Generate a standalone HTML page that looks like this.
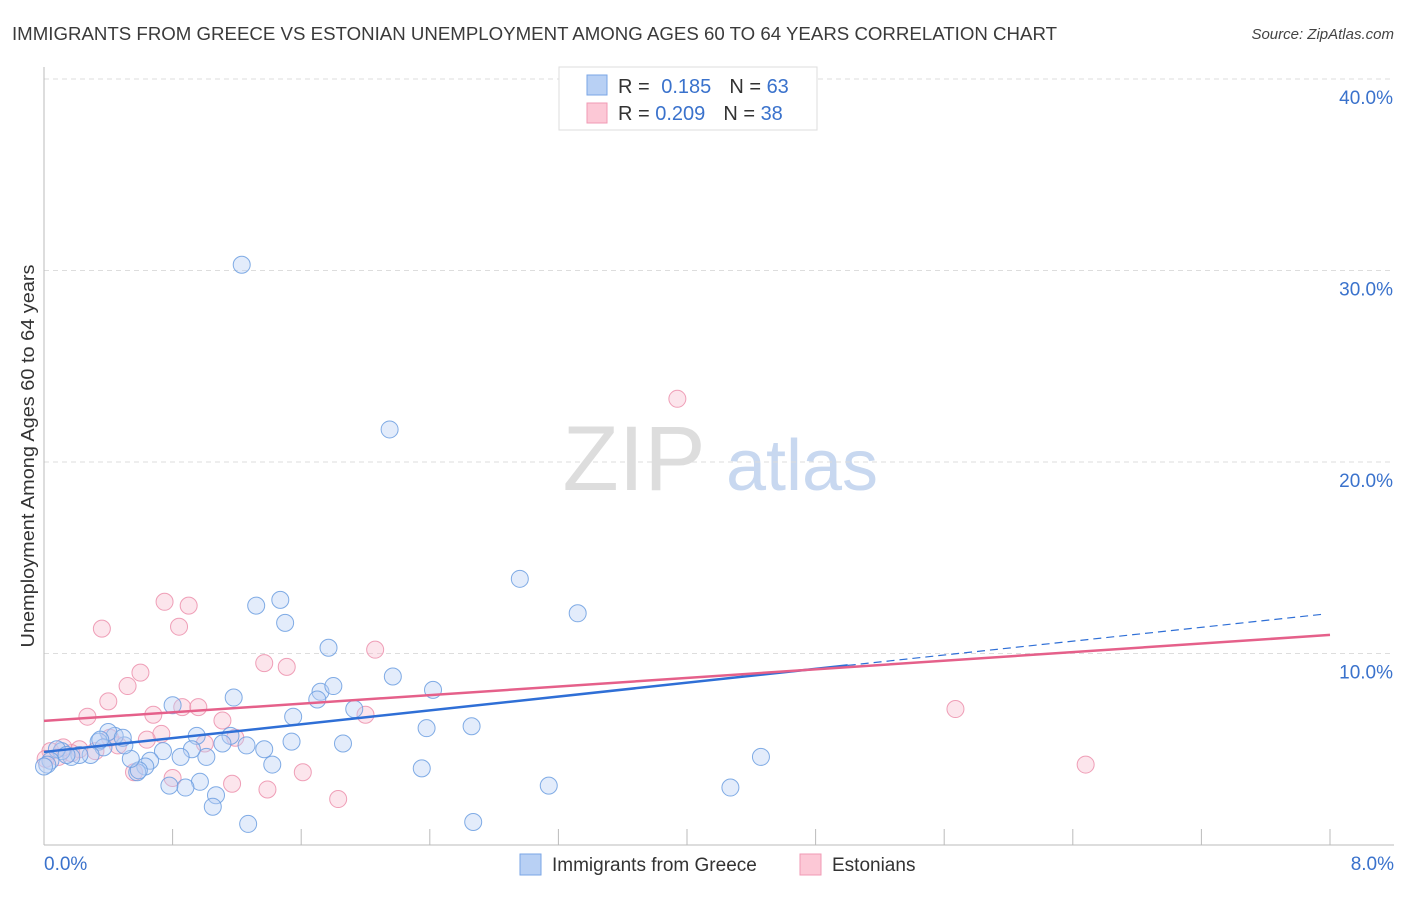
<!DOCTYPE html>
<html><head><meta charset="utf-8"><style>
body{margin:0;background:#fff;font-family:"Liberation Sans",sans-serif}
svg text{font-family:"Liberation Sans",sans-serif}
</style></head><body>
<svg id="chart" width="1406" height="892" xmlns="http://www.w3.org/2000/svg">
<text x="12" y="40" font-size="18" fill="#3a3a3a" textLength="1045" lengthAdjust="spacingAndGlyphs">IMMIGRANTS FROM GREECE VS ESTONIAN UNEMPLOYMENT AMONG AGES 60 TO 64 YEARS CORRELATION CHART</text>
<text x="1394" y="39" font-size="15" fill="#444" text-anchor="end" font-style="italic">Source: ZipAtlas.com</text>
<g>
<text x="634" y="490" font-size="92" fill="#ddd" font-family="Liberation Serif" text-anchor="middle">ZIP</text>
<text x="802" y="490" font-size="72" fill="#c8d8f0" text-anchor="middle">atlas</text>
</g>
<g id="grid"></g>
<g id="axes"></g>
<g id="pts"></g>
<g id="lines"></g>
<text transform="translate(34,456) rotate(-90)" font-size="18" fill="#333" text-anchor="middle" textLength="383" lengthAdjust="spacingAndGlyphs">Unemployment Among Ages 60 to 64 years</text>
<g>
<rect x="559" y="67" width="258" height="63" fill="#fff" stroke="#ddd"/>
<rect x="587" y="75" width="20" height="20" fill="#b8d0f4" stroke="#7aa6e6"/>
<rect x="587" y="103" width="20" height="20" fill="#fcc8d6" stroke="#f09ab4"/>
<text x="618" y="93" font-size="20" fill="#333">R = <tspan fill="#3a72cc" dx="6">0.185</tspan><tspan fill="#333" dx="18">N = </tspan><tspan fill="#3a72cc">63</tspan></text>
<text x="618" y="120" font-size="20" fill="#333">R = <tspan fill="#3a72cc">0.209</tspan><tspan fill="#333" dx="18">N = </tspan><tspan fill="#3a72cc">38</tspan></text>
</g>
<g>
<rect x="520" y="854" width="21" height="21" fill="#b8d0f4" stroke="#7aa6e6"/>
<text x="552" y="871" font-size="19" fill="#333">Immigrants from Greece</text>
<rect x="800" y="854" width="21" height="21" fill="#fcc8d6" stroke="#f09ab4"/>
<text x="832" y="871" font-size="19" fill="#333">Estonians</text>
</g>
</svg>
<script>
const xTicks=[0,8];
const yTicks=[10,20,30,40];
const blueX=[1.23,2.15,2.96,3.32,1.32,1.47,1.5,1.77,2.17,2.42,1.72,1.8,1.7,1.18,0.8,1.55,1.93,2.38,2.66,4.46,4.27,3.14,2.67,1.27,2.35,1.86,1.54,1.37,1.42,1.16,1.11,1.26,0.95,1.01,0.92,0.85,0.74,0.66,0.63,0.58,0.59,0.54,0.5,0.44,0.4,0.34,0.37,0.29,0.22,0.17,0.11,0.08,0.04,0.02,0.0,0.97,0.88,0.78,1.07,1.05,0.49,0.35,0.14];
const blueY=[30.3,21.7,13.9,12.1,12.5,12.8,11.6,10.3,8.8,8.1,8.0,8.3,7.6,7.7,7.3,6.7,7.1,6.1,6.2,4.6,3.0,3.1,1.2,1.1,4.0,5.3,5.4,5.0,4.2,5.7,5.3,5.2,5.7,4.6,5.0,4.6,4.9,4.4,4.1,3.8,3.9,4.5,5.2,5.7,5.9,5.4,5.1,4.7,4.7,4.6,4.9,5.0,4.4,4.2,4.1,3.3,3.0,3.1,2.6,2.0,5.6,5.5,4.7];
const pinkX=[3.94,0.75,0.9,0.36,0.84,2.06,1.37,1.51,0.6,0.52,0.4,0.27,0.68,0.86,0.96,1.11,0.73,0.64,1.19,1.0,5.67,6.48,2.0,1.61,1.83,1.39,1.17,0.80,0.56,0.46,0.22,0.17,0.09,0.04,0.01,0.41,0.32,0.12];
const pinkY=[23.3,12.7,12.5,11.3,11.4,10.2,9.5,9.3,9.0,8.3,7.5,6.7,6.8,7.2,7.2,6.5,5.8,5.5,5.6,5.3,7.1,4.2,6.8,3.8,2.4,2.9,3.2,3.5,3.8,5.2,5.0,4.8,4.6,4.9,4.5,5.6,4.9,5.1];
const blueLine=[4.86,12.09];
const pinkLine=[6.48,10.97];
const NS="http://www.w3.org/2000/svg";
const X=v=>44+v/8*1286, Y=v=>845-v/10*191.5;
function mk(tag,attrs,parent){const e=document.createElementNS(NS,tag);for(const k in attrs)e.setAttribute(k,attrs[k]);document.getElementById(parent).appendChild(e);return e;}
yTicks.forEach(t=>{
 const g=mk('line',{x1:44,x2:1394,y1:Y(t),y2:Y(t),stroke:'#ddd','stroke-dasharray':'5,4'},'grid');
 
 
 const l=mk('text',{x:1393,y:Y(t)+25,'font-size':19,fill:'#3a72cc','text-anchor':'end'},'axes');
 l.textContent=t.toFixed(1)+'%';
 
 
});
const ya=mk('line',{x1:44,x2:44,y1:67,y2:845,stroke:'#bbb'},'axes');


const xa=mk('line',{x1:44,x2:1394,y1:845,y2:845,stroke:'#bbb'},'axes');


for(let i=1;i<=10;i++){const t=mk('line',{x1:X(i*0.8),x2:X(i*0.8),y1:829,y2:845,stroke:'#bbb'},'axes');
 
 }
xTicks.forEach(t=>{const l=mk('text',{x:t==0?44:1394,y:870,'font-size':19,fill:'#3a72cc','text-anchor':t==0?'start':'end'},'axes');
 l.textContent=t.toFixed(1)+'%';
 
 });
function pts(xs,ys,fill,stroke,name){xs.forEach((x,i)=>{const c=mk('circle',{cx:X(x),cy:Y(ys[i]),r:8.5,fill:fill,'fill-opacity':0.4,stroke:stroke,'stroke-width':1,'stroke-opacity':0.85},'pts');
 
 });}
pts(pinkX,pinkY,'#f8bfd0','#ec8fab','estonians-point');
pts(blueX,blueY,'#b8d0f4','#6b9de0','greece-point');
const bx=5.0;
const bl=mk('line',{x1:X(0),y1:Y(blueLine[0]),x2:X(bx),y2:Y(blueLine[0]+(blueLine[1]-blueLine[0])*bx/8),stroke:'#2f6fd6','stroke-width':2.5},'lines');


const bd=mk('line',{x1:X(bx),y1:Y(blueLine[0]+(blueLine[1]-blueLine[0])*bx/8),x2:X(7.97),y2:Y(blueLine[0]+(blueLine[1]-blueLine[0])*7.97/8),stroke:'#2f6fd6','stroke-width':1.2,'stroke-dasharray':'8,5'},'lines');


const pl=mk('line',{x1:X(0),y1:Y(pinkLine[0]),x2:X(8),y2:Y(pinkLine[1]),stroke:'#e5608a','stroke-width':2.5},'lines');


</script>
</body></html>
